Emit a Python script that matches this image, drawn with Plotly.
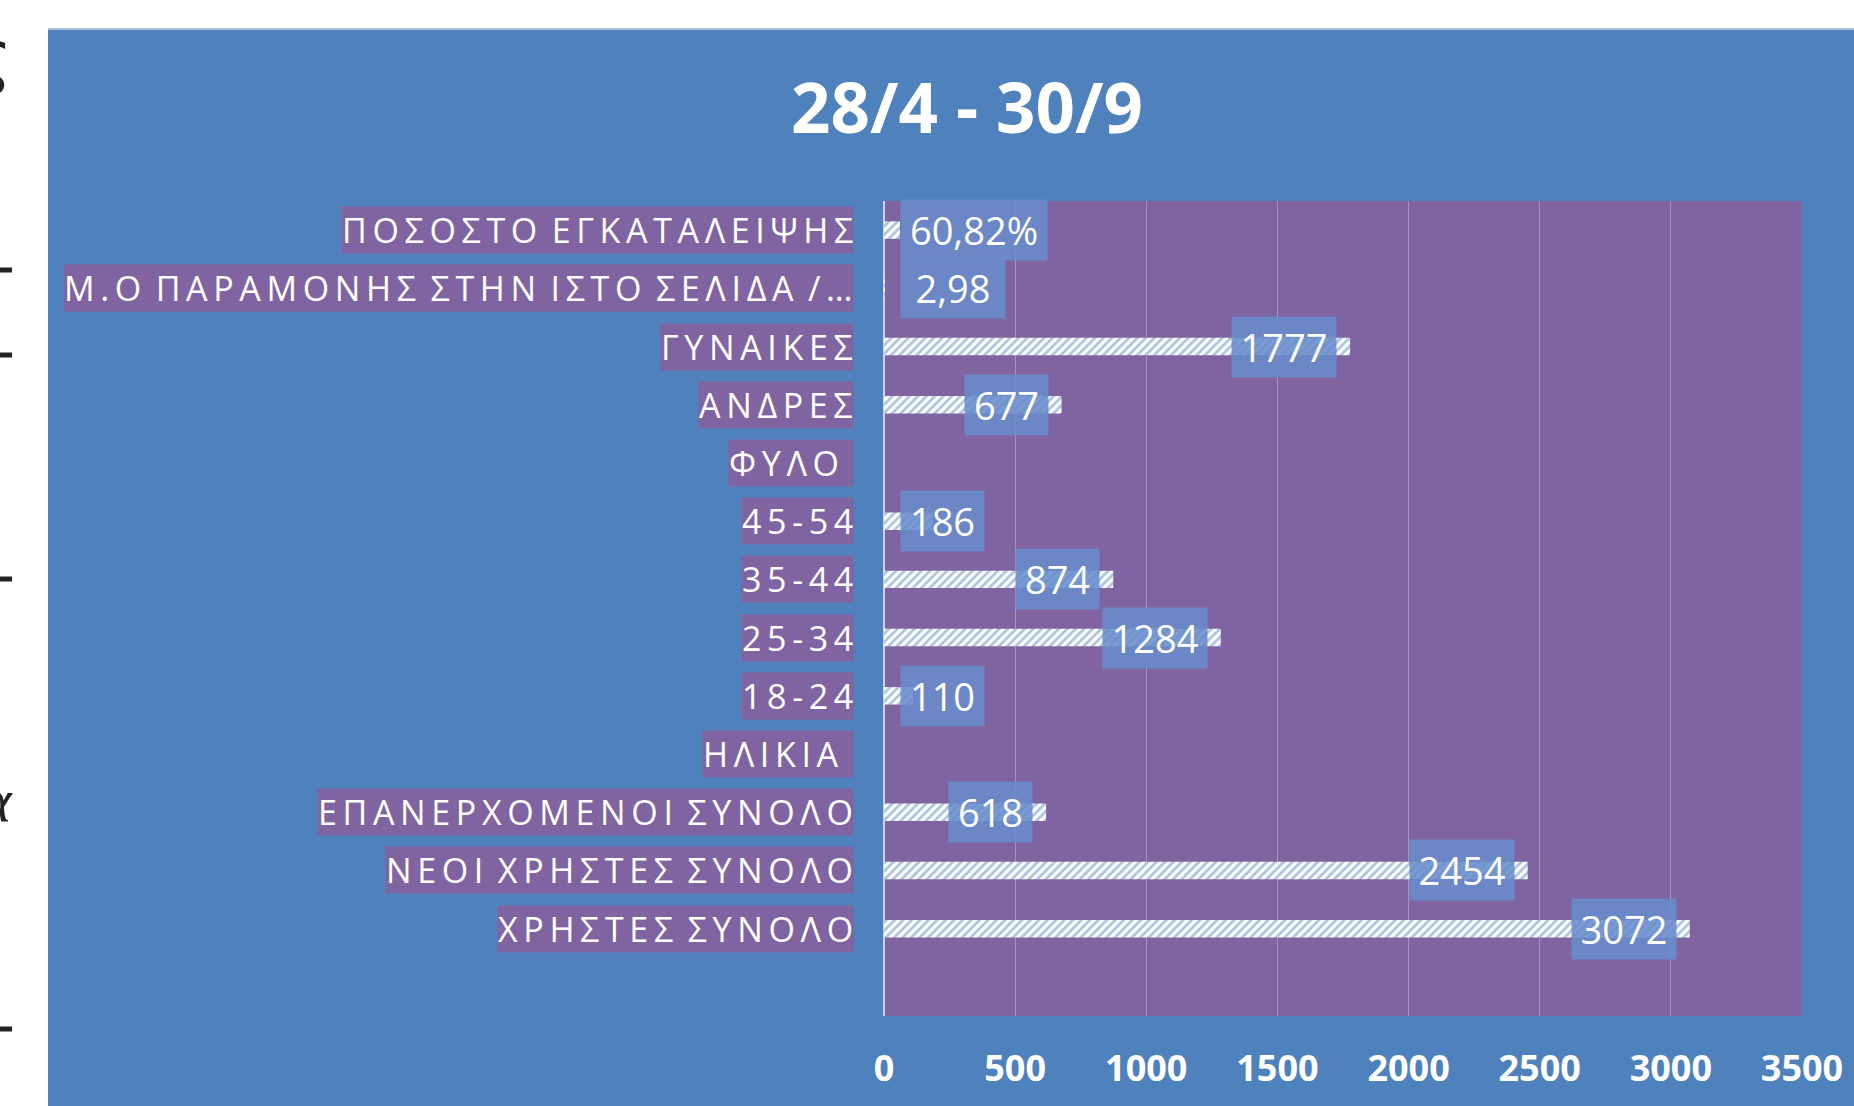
import plotly.graph_objects as go

# ---------------- data ----------------
categories = [
    "ΠΟΣΟΣΤΟ ΕΓΚΑΤΑΛΕΙΨΗΣ",
    "Μ.Ο ΠΑΡΑΜΟΝΗΣ ΣΤΗΝ ΙΣΤΟ ΣΕΛΙΔΑ /…",
    "ΓΥΝΑΙΚΕΣ",
    "ΑΝΔΡΕΣ",
    "ΦΥΛΟ ",
    "45-54",
    "35-44",
    "25-34",
    "18-24",
    "ΗΛΙΚΙΑ ",
    "ΕΠΑΝΕΡΧΟΜΕΝΟΙ ΣΥΝΟΛΟ",
    "ΝΕΟΙ ΧΡΗΣΤΕΣ ΣΥΝΟΛΟ",
    "ΧΡΗΣΤΕΣ ΣΥΝΟΛΟ",
]
values = [60.82, 2.98, 1777, 677, None, 186, 874, 1284, 110, None, 618, 2454, 3072]
value_labels = ["60,82%", "2,98", "1777", "677", "", "186", "874", "1284", "110", "", "618", "2454", "3072"]
x_ticks = [0, 500, 1000, 1500, 2000, 2500, 3000, 3500]
title_text = "28/4 - 30/9"

# ---------------- layout geometry ----------------
W, H = 1854, 1106
L, R, T, B = 884, 52, 201, 90
PW, PH = W - L - R, H - T - B
XMAX = 3500

BLUE = "#4F81BD"
PURPLE = "#8064A2"
LABEL_BOX = "rgba(104,140,203,0.88)"


def px_x(px):
    return (px - L) / PW


def px_y(py):
    return (H - B - py) / PH


def spaced(s):
    return "\u2009 ".join("\u2009".join(w) for w in s.split(" "))


fig = go.Figure()

fig.add_trace(go.Bar(
    y=categories,
    x=values,
    orientation="h",
    width=0.3,
    marker=dict(
        color="white",
        line=dict(width=0),
        pattern=dict(shape="/", fgcolor="#5A86C3", bgcolor="white", size=6, solidity=0.45),
    ),
    hoverinfo="x+y",
    showlegend=False,
))

annotations = []
# category labels with purple boxes
for c in categories:
    annotations.append(dict(
        xref="paper", yref="y", x=px_x(854), y=c,
        xanchor="right", yanchor="middle",
        text=spaced(c), showarrow=False,
        font=dict(family="Open Sans, sans-serif", size=34, color="white", weight=500),
        bgcolor=PURPLE, borderpad=0,
    ))

# data labels
ppu = PW / XMAX
for c, v, t in zip(categories, values, value_labels):
    if v is None:
        continue
    box_w = len(t) * 21.0 + 12
    if v * ppu - 13 - (box_w + 8) < 16:
        xv, anchor, shift = 0, "left", 16
    else:
        xv, anchor, shift = v, "right", -13
    annotations.append(dict(
        xref="x", yref="y", x=xv, y=c, xanchor=anchor, yanchor="middle",
        xshift=shift, text=t, showarrow=False, width=box_w,
        font=dict(family="Open Sans, sans-serif", size=38, color="white"),
        bgcolor=LABEL_BOX, borderpad=4,
    ))

# slide fragments visible at the left edge
annotations.append(dict(xref="paper", yref="paper", x=px_x(14), y=px_y(56),
                        xanchor="right", yanchor="middle", text="ς", showarrow=False,
                        font=dict(family="DejaVu Sans", size=70, color="#222222")))
annotations.append(dict(xref="paper", yref="paper", x=px_x(15), y=px_y(800),
                        xanchor="right", yanchor="middle", text="<i>α</i>", showarrow=False,
                        font=dict(family="Liberation Serif", size=62, color="#222222")))

shapes = [
    dict(type="rect", xref="paper", yref="paper", x0=px_x(0), x1=px_x(48),
         y0=px_y(H), y1=px_y(0), fillcolor="white", line=dict(width=0), layer="below"),
    dict(type="rect", xref="paper", yref="paper", x0=px_x(0), x1=px_x(W),
         y0=px_y(29), y1=px_y(0), fillcolor="white", line=dict(width=0), layer="below"),
    dict(type="line", xref="paper", yref="paper", x0=px_x(48), x1=px_x(W),
         y0=px_y(29), y1=px_y(29), line=dict(color="#A9BFE0", width=2), layer="below"),
]
for yy in [270, 355, 579, 1029]:
    shapes.append(dict(type="line", xref="paper", yref="paper", x0=px_x(0), x1=px_x(12),
                       y0=px_y(yy), y1=px_y(yy), line=dict(color="#222222", width=5),
                       layer="below"))

fig.update_layout(
    width=W, height=H,
    margin=dict(l=L, r=R, t=T, b=B, autoexpand=False),
    paper_bgcolor=BLUE,
    plot_bgcolor=PURPLE,
    title=dict(
        text="<b>" + title_text + "</b>",
        x=967 / W, xref="container", xanchor="center",
        y=1 - 109 / H, yref="container", yanchor="middle",
        font=dict(family="Open Sans, sans-serif", size=69, color="white"),
    ),
    xaxis=dict(
        range=[0, XMAX], tickvals=x_ticks, ticktext=[str(v) for v in x_ticks],
        showgrid=True, gridcolor="rgba(225,215,240,0.4)", gridwidth=1,
        zeroline=True, zerolinecolor="#C9D5EC", zerolinewidth=1.5,
        ticks="outside", ticklen=21, tickcolor="rgba(0,0,0,0)",
        tickfont=dict(family="Open Sans, sans-serif", size=36, color="white", weight="bold"),
        showline=False, fixedrange=True,
    ),
    yaxis=dict(
        type="category", categoryorder="array", categoryarray=categories,
        range=[len(categories) + 0.5, -0.5],
        showticklabels=False, showgrid=False, zeroline=False, showline=False,
        fixedrange=True,
    ),
    annotations=annotations,
    shapes=shapes,
    bargap=0.7,
)

fig.write_html(
    "out.html",
    config={"displayModeBar": False},
    post_script="document.body.style.margin='0px';document.body.style.overflow='hidden';",
)
